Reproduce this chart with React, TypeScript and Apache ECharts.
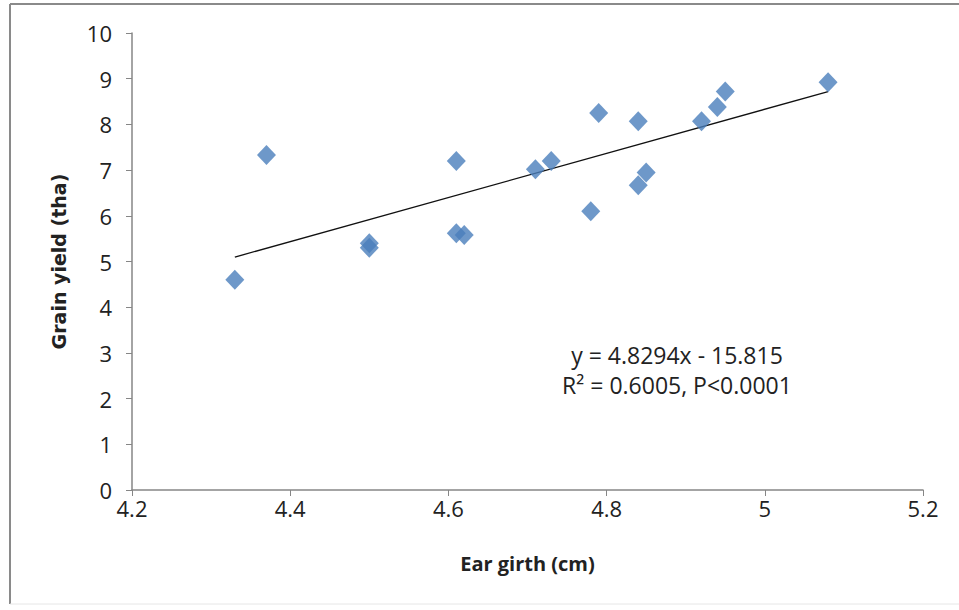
import React, { useEffect, useRef } from "react";
import * as echarts from "echarts";

const earGirth = [4.33, 4.37, 4.5, 4.5, 4.61, 4.61, 4.62, 4.71, 4.73, 4.78, 4.79, 4.84, 4.84, 4.85, 4.92, 4.94, 4.95, 5.08];
const grainYield = [4.6, 7.33, 5.4, 5.3, 7.2, 5.62, 5.58, 7.02, 7.2, 6.1, 8.25, 8.07, 6.67, 6.95, 8.07, 8.38, 8.72, 8.92];
const trendSlope = 4.8294;
const trendIntercept = -15.815;
const trendX = [4.33, 5.08];
const xTicks = [4.2, 4.4, 4.6, 4.8, 5, 5.2];
const yTicks = [0, 1, 2, 3, 4, 5, 6, 7, 8, 9, 10];
const annotationLines = ["y = 4.8294x - 15.815", "R\u00B2 = 0.6005, P<0.0001"];

const FONT = '"Open Sans", sans-serif';

export default function App() {
  const ref = useRef<HTMLDivElement>(null);
  useEffect(() => {
    if (!ref.current) return;
    const chart = echarts.init(ref.current, undefined, { renderer: "svg" });
    const points = earGirth.map((x, i) => [x, grainYield[i]]);
    const trend = trendX.map((x) => [x, trendSlope * x + trendIntercept]);
    chart.setOption({
      animation: false,
      backgroundColor: "#ffffff",
      grid: { left: 132, right: 36, top: 33, bottom: 120 },
      xAxis: {
        type: "value",
        min: xTicks[0],
        max: xTicks[xTicks.length - 1],
        interval: 0.2,
        name: "Ear girth (cm)",
        nameLocation: "middle",
        nameGap: 63,
        nameTextStyle: { fontFamily: FONT, fontSize: 20, fontWeight: "bold", color: "#222" },
        axisLine: { show: true, onZero: false, lineStyle: { color: "#868686", width: 1.5 } },
        axisTick: { show: true, inside: false, length: 6, lineStyle: { color: "#868686" } },
        axisLabel: {
          fontFamily: FONT,
          fontSize: 22,
          color: "#222",
          margin: 7,
          formatter: (v: number) => String(parseFloat(v.toFixed(1))),
        },
        splitLine: { show: false },
      },
      yAxis: {
        type: "value",
        min: yTicks[0],
        max: yTicks[yTicks.length - 1],
        interval: 1,
        name: "Grain yield (tha)",
        nameLocation: "middle",
        nameGap: 64,
        nameTextStyle: { fontFamily: '"DejaVu Sans", sans-serif', fontSize: 19, fontWeight: "bold", color: "#222" },
        axisLine: { show: true, lineStyle: { color: "#868686", width: 1.5 } },
        axisTick: { show: true, inside: false, length: 6, lineStyle: { color: "#868686" } },
        axisLabel: { fontFamily: FONT, fontSize: 22, color: "#222", margin: 20 },
        splitLine: { show: false },
      },
      series: [
        {
          type: "line",
          data: trend,
          symbol: "none",
          lineStyle: { color: "#111", width: 1.3 },
          z: 2,
        },
        {
          type: "scatter",
          data: points,
          symbol: "diamond",
          symbolSize: [19, 20],
          itemStyle: { color: "#4A7EBB" },
          z: 3,
        },
      ],
      graphic: [
        {
          type: "line",
          shape: { x1: 10, y1: 4, x2: 959, y2: 4 },
          style: { stroke: "#8a8a8a", lineWidth: 2 },
        },
        {
          type: "line",
          shape: { x1: 10, y1: 4, x2: 10, y2: 604 },
          style: { stroke: "#8a8a8a", lineWidth: 2 },
        },
        {
          type: "line",
          shape: { x1: 10, y1: 604, x2: 959, y2: 604 },
          style: { stroke: "#e6e6e6", lineWidth: 1 },
        },
        {
          type: "text",
          x: 677,
          y: 355,
          style: {
            text: annotationLines[0],
            fontFamily: FONT,
            fontSize: 23,
            fill: "#222",
            align: "center",
            verticalAlign: "middle",
          },
        },
        {
          type: "text",
          x: 677,
          y: 385,
          style: {
            text: annotationLines[1],
            fontFamily: FONT,
            fontSize: 23,
            fill: "#222",
            align: "center",
            verticalAlign: "middle",
          },
        },
      ],
    });
    return () => chart.dispose();
  }, []);
  return (
    <div
      ref={ref}
      style={{ position: "fixed", left: 0, top: 0, width: 959, height: 610 }}
    />
  );
}
